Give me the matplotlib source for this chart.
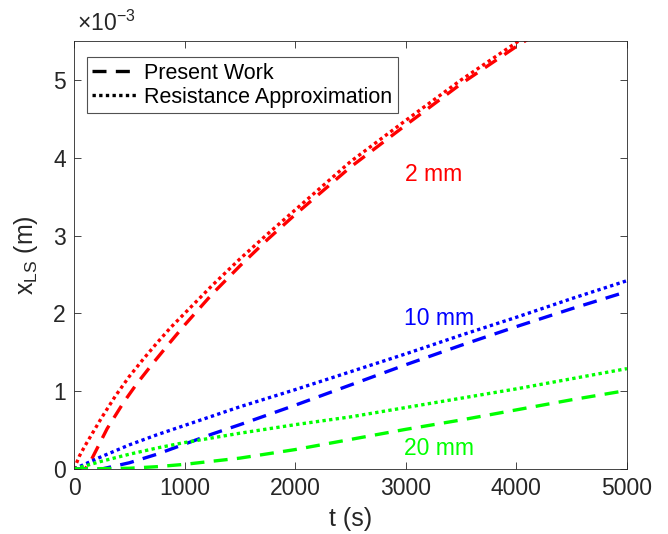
import matplotlib
matplotlib.use('Agg')
import matplotlib.pyplot as plt

plt.rcParams['font.family'] = ['Liberation Sans', 'DejaVu Sans']
plt.rcParams['mathtext.fontset'] = 'custom'
plt.rcParams['mathtext.rm'] = 'Liberation Sans'
plt.rcParams['mathtext.it'] = 'Liberation Sans:italic'

# x_LS in units of 1e-3 m, t in s
t_red_pw = [0, 100, 150, 200, 300, 450, 570, 720, 870, 1000, 1250, 1500, 1750, 2000,
            2500, 3000, 3500, 4000, 4100]
x_red_pw = [0, 0.0, 0.10, 0.24, 0.52, 0.86, 1.10, 1.37, 1.63, 1.85, 2.25, 2.61, 2.95, 3.27,
            3.88, 4.42, 4.95, 5.43, 5.52]
t_red_ra = [0, 50, 100, 175, 250, 375, 500, 625, 750, 875, 1000, 1250, 1500, 1750, 2000,
            2500, 3000, 3500, 4000, 4100]
x_red_ra = [0, 0.17, 0.30, 0.48, 0.66, 0.94, 1.19, 1.41, 1.62, 1.82, 2.00, 2.36, 2.70, 3.02,
            3.33, 3.95, 4.48, 5.00, 5.48, 5.58]

t_blue_pw = [0, 250, 500, 750, 1000, 1250, 1500, 2000, 2500, 3000, 3500, 4000, 4500, 5000]
x_blue_pw = [0, 0.0, 0.08, 0.19, 0.32, 0.45, 0.57, 0.82, 1.08, 1.34, 1.59, 1.83, 2.06, 2.28]
t_blue_ra = [0, 250, 500, 750, 1000, 1250, 1500, 1750, 2000, 2500, 3000, 3500, 4000, 4500, 5000]
x_blue_ra = [0, 0.16, 0.31, 0.44, 0.56, 0.68, 0.80, 0.91, 1.02, 1.25, 1.48, 1.72, 1.95, 2.19, 2.42]

t_green_pw = [0, 500, 750, 1000, 1250, 1500, 2000, 2500, 3000, 3500, 4000, 4500, 5000]
x_green_pw = [0, 0.01, 0.03, 0.06, 0.10, 0.14, 0.25, 0.38, 0.51, 0.63, 0.76, 0.89, 1.01]
t_green_ra = [0, 250, 500, 750, 1000, 1250, 1500, 2000, 2500, 3000, 3500, 4000, 4500, 5000]
x_green_ra = [0, 0.10, 0.19, 0.27, 0.34, 0.40, 0.46, 0.57, 0.67, 0.79, 0.91, 1.03, 1.16, 1.29]

labels = ['2 mm', '10 mm', '20 mm']
label_t = [3250, 3300, 3300]
label_x = [3.78, 1.94, 0.26]
colors = ['#ff0000', '#0000ff', '#00ff00']

txt = '#262626'
lw = 2.4
dash = (0, (4.2, 2.8))
dot = (0, (1, 1))

fig = plt.figure(figsize=(6.68, 5.34), dpi=100)
ax = fig.add_axes([0.1108, 0.1217, 0.8278, 0.8015])

ax.plot(t_red_pw, x_red_pw, color=colors[0], lw=lw, linestyle=dash)
ax.plot(t_red_ra, x_red_ra, color=colors[0], lw=lw, linestyle=dot)
ax.plot(t_blue_pw, x_blue_pw, color=colors[1], lw=lw, linestyle=dash)
ax.plot(t_blue_ra, x_blue_ra, color=colors[1], lw=lw, linestyle=dot)
ax.plot(t_green_pw, x_green_pw, color=colors[2], lw=lw, linestyle=dash)
ax.plot(t_green_ra, x_green_ra, color=colors[2], lw=lw, linestyle=dot)

for lab, tx, xx, c in zip(labels, label_t, label_x, colors):
    ax.text(tx, xx, lab, color=c, fontsize=16.5, ha='center', va='center')

# legend uses black proxies
ax.plot([], [], color='black', lw=lw, linestyle=dash, label='Present Work')
ax.plot([], [], color='black', lw=lw, linestyle=dot, label='Resistance Approximation')
leg = ax.legend(loc='upper left', bbox_to_anchor=(0.0235, 0.962), fontsize=15.5,
                frameon=True, fancybox=False, borderpad=0.25, labelspacing=0.15,
                handlelength=2.1, handletextpad=0.3, borderaxespad=0)
leg.get_frame().set_edgecolor('#262626')
leg.get_frame().set_linewidth(0.8)
for t in leg.get_texts():
    t.set_color('black')

ax.set_xlim(0, 5000)
ax.set_ylim(0, 5.5)
ax.set_xticks([0, 1000, 2000, 3000, 4000, 5000])
ax.set_yticks([0, 1, 2, 3, 4, 5])
ax.tick_params(direction='in', length=5, width=0.6, colors=txt, labelsize=16.5,
               top=True, right=True, pad=6)
for s in ax.spines.values():
    s.set_color('#262626')
    s.set_linewidth(0.6)

ax.set_xlabel('t (s)', fontsize=18, color=txt, labelpad=5)
ax.set_ylabel(r'x$_{\mathrm{LS}}$ (m)', fontsize=18, color=txt, labelpad=9)
ax.text(0.005, 1.012, r'$\times\mathrm{10^{-3}}$', transform=ax.transAxes,
        fontsize=16.5, color=txt, ha='left', va='bottom')

fig.savefig('out.png', dpi=100)
